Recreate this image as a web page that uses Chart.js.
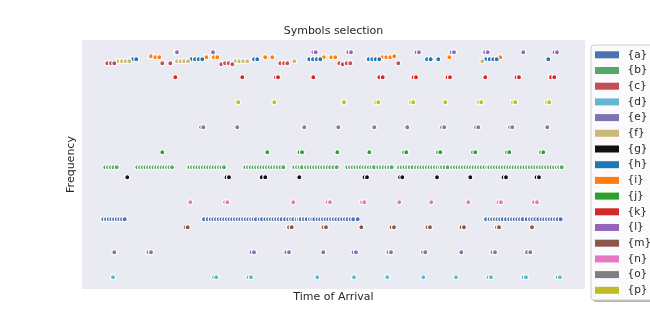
<!DOCTYPE html>
<html>
<head>
<meta charset="utf-8">
<script src="https://cdn.jsdelivr.net/npm/chart.js@4/dist/chart.umd.min.js"></script>
<style>
  html, body { margin: 0; padding: 0; background: #ffffff; }
  #wrap { width: 650px; height: 325px; position: relative; }
</style>
</head>
<body>
<div id="wrap"><canvas id="c" width="650" height="325"></canvas></div>
<script>
// ---- data ----
const symbols = ['{a}','{b}','{c}','{d}','{e}','{f}','{g}','{h}','{i}','{j}','{k}','{l}','{m}','{n}','{o}','{p}'];
const colors  = ['#4C72B0','#55A868','#C44E52','#64B5CD','#8172B2','#CCB974','#111111','#1f77b4',
                 '#ff7f0e','#2ca02c','#d62728','#9467bd','#8c564b','#e377c2','#7f7f7f','#bcbd22'];

// frequency of each symbol (a single value, or one per arrival)
const freqA = 8.07;
const freqB = 13.27;
const freqC = [23.67,23.67,23.67,23.67,23.67,23.57,23.67,23.67,23.57,23.67,23.67,23.67,23.67,23.57,23.67,23.67,23.67];
const freqD = 2.27;
const freqE = 4.77;
const freqF = 23.87;
const freqG = 12.27;
const freqH = 24.07;
const freqI = [24.37,24.27,24.27,24.27,24.27,24.27,24.27,24.27,24.27,24.27,24.27,24.27,24.27,24.27,24.37,24.27,24.27];
const freqJ = 14.77;
const freqK = 22.27;
const freqL = 24.77;
const freqM = 7.27;
const freqN = 9.77;
const freqO = 17.27;
const freqP = 19.77;

// times of arrival of each symbol
const timesA = [0.03,0.3,0.57,0.83,1.1,1.37,1.63,1.9,2.17,
  10.1,10.47,10.77,11.03,11.3,11.57,11.84,12.11,12.38,12.65,12.92,13.19,13.46,13.73,14.0,14.27,14.54,14.81,15.06,15.3,
  15.66,15.9,16.24,16.51,16.78,17.05,17.32,17.59,17.86,18.2,18.53,18.8,19.03,19.36,19.58,19.77,20.09,20.37,20.69,20.92,
  21.13,21.45,21.72,21.99,22.26,22.53,22.8,23.07,23.34,23.63,23.92,24.19,24.46,24.77,25.03,25.47,
  38.3,38.65,38.9,39.17,39.44,39.71,39.98,40.3,40.62,40.89,41.16,41.43,41.7,41.97,42.37,42.69,42.96,43.23,43.53,
  43.85,44.12,44.39,44.66,44.93,45.2,45.47,45.77];
const timesB = [0.23,0.5,0.77,1.05,1.37,
  3.43,3.7,3.97,4.24,4.51,4.78,5.05,5.32,5.59,5.86,6.13,6.4,6.65,6.9,
  8.63,8.9,9.17,9.44,9.71,9.98,10.25,10.52,10.79,11.06,11.33,11.6,11.85,12.1,
  14.23,14.5,14.77,15.04,15.31,15.58,15.85,16.12,16.39,16.66,16.93,17.2,17.47,17.75,18.03,
  19.13,19.4,19.65,19.9,
  20.3,20.57,20.84,21.11,21.38,21.65,21.92,22.19,22.46,22.73,23.05,23.37,
  24.43,24.7,24.97,25.24,25.51,25.78,26.05,26.32,26.59,26.85,27.1,
  27.53,27.8,28.07,28.34,28.6,28.87,
  29.6,29.87,30.14,30.41,30.68,30.97,
  31.3,31.57,31.84,32.11,32.38,32.65,32.92,33.19,33.46,33.7,33.9,
  34.17,34.47,
  34.9,35.17,35.44,35.71,35.98,36.25,36.52,36.79,37.06,37.33,37.6,37.87,38.15,38.43,
  38.63,38.9,39.17,39.44,39.71,39.98,40.25,40.52,40.79,41.06,41.33,41.6,41.87,42.14,42.41,42.68,42.95,43.22,43.49,
  43.76,44.03,44.3,44.57,44.84,45.11,45.38,45.62,45.87];
const timesC = [0.43,0.8,1.13,5.93,6.73,11.83,12.2,12.57,12.93,17.73,18.1,18.43,23.63,23.97,24.37,24.73,29.53];
const timesD = [1.0,11.1,11.33,14.55,14.8,21.43,25.1,28.43,32.03,35.3,38.55,38.8,42.05,42.3,45.45,45.7];
const timesE = [1.13,4.55,4.8,14.85,15.1,18.33,18.6,22.03,25.05,25.3,28.55,28.8,32.0,32.23,35.83,38.95,39.2,42.4,42.73];
const timesF = [1.57,1.9,2.27,2.63,7.4,7.77,8.13,8.5,13.23,13.63,14.03,14.43,19.13,37.93];
const timesG = [2.43,12.35,12.6,15.87,16.23,19.63,26.15,26.4,29.7,29.93,33.4,36.73,40.05,40.3,43.35,43.6];
const timesH = [3.0,3.33,8.83,9.2,9.57,9.93,15.1,15.43,20.63,21.0,21.37,21.73,26.57,26.93,27.27,27.63,32.4,32.77,33.53,
  38.3,38.67,39.03,39.37,44.53];
const timesI = [4.8,5.23,5.63,10.33,11.07,11.43,16.23,16.93,22.07,22.83,23.23,27.93,28.33,28.73,29.13,34.63,39.73];
const timesJ = [5.93,16.43,19.65,19.9,23.43,26.63,30.1,30.33,33.5,33.73,37.0,37.23,40.4,40.63,43.8,44.03];
const timesK = [7.23,13.93,17.3,17.5,21.03,27.63,27.97,31.05,31.3,34.45,34.7,38.23,41.35,41.6,44.8,45.13];
const timesL = [7.27,7.4,11.0,21.03,21.27,24.53,24.8,31.35,31.6,34.85,35.1,38.2,38.47,42.03,45.15,45.4];
const timesM = [8.25,8.47,18.6,18.87,22.05,22.3,25.83,28.85,29.1,32.45,32.7,35.85,36.1,39.4,39.6,42.9];
const timesN = [8.73,12.2,12.43,19.03,22.45,22.7,25.9,26.13,29.63,32.83,36.53,39.55,39.8,43.1,43.4];
const timesO = [9.8,10.03,13.43,20.13,23.53,27.13,30.43,33.9,34.13,37.3,37.53,40.7,40.93,44.43];
const timesP = [13.53,17.13,24.1,27.3,27.53,30.8,31.03,34.23,37.6,37.83,41.0,41.23,44.4,44.63];

const allTimes = [timesA,timesB,timesC,timesD,timesE,timesF,timesG,timesH,timesI,timesJ,timesK,timesL,timesM,timesN,timesO,timesP];
const allFreqs = [freqA,freqB,freqC,freqD,freqE,freqF,freqG,freqH,freqI,freqJ,freqK,freqL,freqM,freqN,freqO,freqP];

const xRange = [-2.1, 48.2];
const yRange = [1.1, 26.0];

// ---- build ----
const FONT = "'DejaVu Sans', 'Liberation Sans', sans-serif";
const TEXT = '#262626';

const datasets = symbols.map((s, i) => ({
  label: s,
  data: allTimes[i].map((t, k) => ({ x: t, y: Array.isArray(allFreqs[i]) ? allFreqs[i][k] : allFreqs[i] })),
  backgroundColor: colors[i],
  borderColor: '#ffffff',
  borderWidth: 1.1,
  pointRadius: 2.5,
  pointHoverRadius: 2.5
}));

const bgPlugin = {
  id: 'bg',
  beforeDraw(chart) {
    const { ctx, chartArea: a } = chart;
    ctx.save();
    ctx.fillStyle = '#ffffff';
    ctx.fillRect(0, 0, chart.width, chart.height);
    ctx.fillStyle = '#EAEAF2';
    ctx.fillRect(a.left, a.top, a.right - a.left, a.bottom - a.top);
    ctx.restore();
  }
};

const legendPlugin = {
  id: 'boxLegend',
  afterDraw(chart) {
    const { ctx } = chart;
    const left = 591, top = 45, w = 70, h = 255, r = 3;
    ctx.save();
    function rr(x, y) {
      ctx.beginPath();
      ctx.moveTo(x + r, y);
      ctx.lineTo(x + w - r, y);
      ctx.arcTo(x + w, y, x + w, y + r, r);
      ctx.lineTo(x + w, y + h - r);
      ctx.arcTo(x + w, y + h, x + w - r, y + h, r);
      ctx.lineTo(x + r, y + h);
      ctx.arcTo(x, y + h, x, y + h - r, r);
      ctx.lineTo(x, y + r);
      ctx.arcTo(x, y, x + r, y, r);
      ctx.closePath();
    }
    rr(left + 2, top + 2);
    ctx.fillStyle = 'rgba(0,0,0,0.3)';
    ctx.fill();
    rr(left, top);
    ctx.fillStyle = '#FBFBFD';
    ctx.fill();
    ctx.lineWidth = 1;
    ctx.strokeStyle = '#CCCCCC';
    ctx.stroke();
    ctx.font = '10.5px ' + FONT;
    ctx.textBaseline = 'middle';
    symbols.forEach((s, i) => {
      const cy = 54.8 + i * 15.7;
      ctx.fillStyle = colors[i];
      ctx.fillRect(595, cy - 3.5, 24, 7);
      ctx.fillStyle = TEXT;
      ctx.fillText(s, 627.5, cy);
    });
    ctx.restore();
  }
};

new Chart(document.getElementById('c'), {
  type: 'scatter',
  data: { datasets },
  plugins: [bgPlugin, legendPlugin],
  options: {
    responsive: false,
    animation: false,
    layout: { padding: { left: 0, right: 65, top: 0, bottom: 0 } },
    plugins: {
      legend: { display: false },
      tooltip: { enabled: false },
      title: {
        display: true,
        text: 'Symbols selection',
        fullSize: false,
        color: TEXT,
        font: { family: FONT, size: 11, weight: 'normal' },
        padding: { top: 24.4, bottom: 2.4 }
      }
    },
    scales: {
      x: {
        type: 'linear',
        min: xRange[0], max: xRange[1],
        grid: { display: false, drawTicks: false },
        border: { display: false },
        ticks: { display: false },
        title: { display: true, text: 'Time of Arrival', color: TEXT,
                 font: { family: FONT, size: 11 }, padding: { top: 1.4, bottom: 21.4 } }
      },
      y: {
        type: 'linear',
        min: yRange[0], max: yRange[1],
        grid: { display: false, drawTicks: false },
        border: { display: false },
        ticks: { display: false },
        title: { display: true, text: 'Frequency', color: TEXT,
                 font: { family: FONT, size: 11 }, padding: { top: 64.4, bottom: 4.4 } }
      }
    }
  }
});
</script>
</body>
</html>
